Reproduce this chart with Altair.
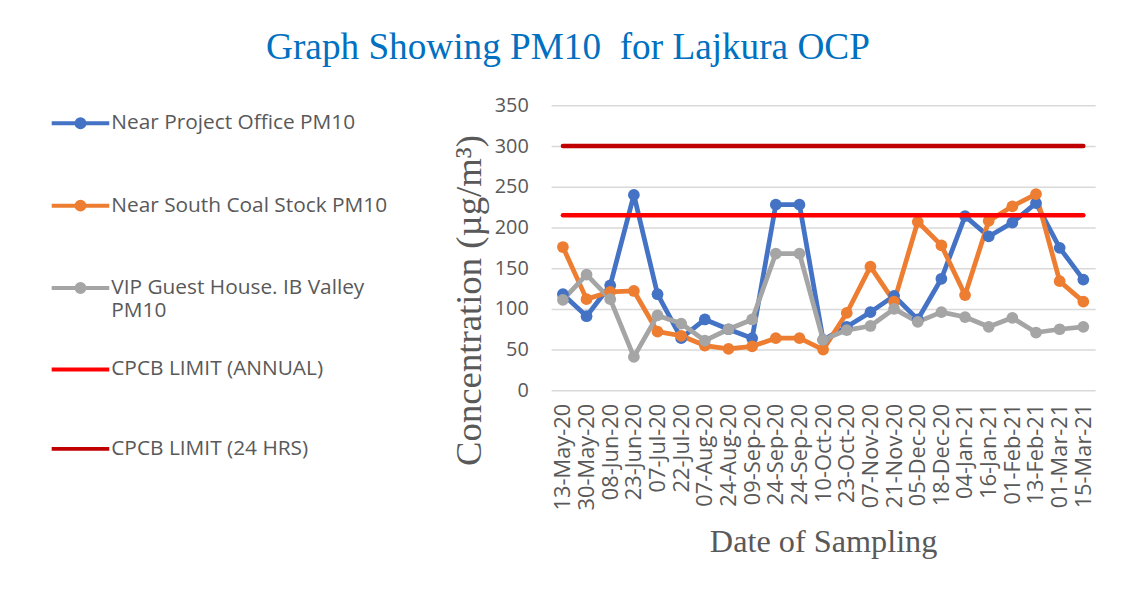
import altair as alt
import pandas as pd

dates = ["13-May-20", "30-May-20", "08-Jun-20", "23-Jun-20", "07-Jul-20", "22-Jul-20",
         "07-Aug-20", "24-Aug-20", "09-Sep-20", "24-Sep-20", "24-Sep-20", "10-Oct-20",
         "23-Oct-20", "07-Nov-20", "21-Nov-20", "05-Dec-20", "18-Dec-20", "04-Jan-21",
         "16-Jan-21", "01-Feb-21", "13-Feb-21", "01-Mar-21", "15-Mar-21"]

near_project_office = [118, 91, 129, 240, 118, 64, 87, 75, 64, 228, 228, 62,
                       78, 96, 116, 87, 137, 214, 189, 206, 230, 175, 136]
near_south_coal = [176, 112, 121, 122, 72, 67, 55, 51, 54, 64, 64, 50,
                   95, 152, 109, 207, 178, 117, 208, 226, 241, 134, 109]
vip_guest_house = [111, 142, 112, 41, 92, 82, 61, 75, 87, 168, 168, 62,
                   74, 79, 100, 84, 96, 90, 78, 89, 71, 75, 78]

series_names = ["Near Project Office PM10", "Near South Coal Stock PM10",
                "VIP Guest House. IB Valley PM10"]
series_colors = ["#4472C4", "#ED7D31", "#A5A5A5"]

limit_names = ["CPCB LIMIT (ANNUAL)", "CPCB LIMIT (24 HRS)"]
limit_values = [215, 300]
limit_colors = ["#FF0000", "#C00000"]

y_ticks = [0, 50, 100, 150, 200, 250, 300, 350]

rows = []
for name, vals in zip(series_names, [near_project_office, near_south_coal, vip_guest_house]):
    for i, v in enumerate(vals):
        rows.append({"idx": i, "series": name, "value": v})
df = pd.DataFrame(rows)

lrows = []
for name, v in zip(limit_names, limit_values):
    for i in range(len(dates)):
        lrows.append({"idx": i, "limit": name, "value": v})
ldf = pd.DataFrame(lrows)

label_expr = "[" + ",".join("'%s'" % d for d in dates) + "][datum.value]"

FONT = "Open Sans"
SERIF = "Liberation Serif"
GREY = "#595959"

x_enc = alt.X("idx:O",
              scale=alt.Scale(type="point", padding=0.5),
              axis=alt.Axis(labelExpr=label_expr, labelAngle=270, labelFont=FONT,
                            labelFontSize=22, labelColor=GREY, labelPadding=13,
                            labelOverlap=False, ticks=False, domain=False, grid=False,
                            title="Date of Sampling", titleFont=SERIF, titleFontSize=32.5,
                            titleFontWeight="normal", titleColor=GREY,
                            titleY=152, titleBaseline="middle"))
y_enc = alt.Y("value:Q",
              scale=alt.Scale(domain=[0, 350], nice=False),
              axis=alt.Axis(values=y_ticks, grid=True, gridColor="#D9D9D9", gridWidth=1.5,
                            domain=False, ticks=False, labelFont=FONT, labelFontSize=20,
                            labelColor=GREY, labelPadding=23,
                            title="Concentration (µg/m³)", titleFont=SERIF,
                            titleFontSize=37, titleFontWeight="normal", titleColor=GREY,
                            titleX=-82, titleY=196, titleAlign="center",
                            titleBaseline="middle"))

r1 = 0.138
r2 = 0.069
sym_path = ("M-1,0L1,0"
            f"M-{r1},0A{r1},{r1},0,1,0,{r1},0A{r1},{r1},0,1,0,-{r1},0"
            f"M-{r2},0A{r2},{r2},0,1,0,{r2},0A{r2},{r2},0,1,0,-{r2},0")

vip = series_names[2]
legend_label_expr = ("datum.label == '%s' ? ['VIP Guest House. IB Valley', 'PM10'] : datum.label" % vip)

series = alt.Chart(df).mark_line(
    strokeWidth=4.8, strokeJoin="round",
    point=alt.OverlayMarkDef(size=140, filled=True, opacity=1)
).encode(
    x=x_enc, y=y_enc,
    color=alt.Color("series:N",
                    scale=alt.Scale(domain=series_names, range=series_colors),
                    legend=alt.Legend(orient="none", legendX=-505, legendY=-13, title=None,
                                      symbolType=sym_path, symbolSize=3364,
                                      symbolStrokeWidth=4, labelFont=FONT,
                                      labelFontSize=21, labelColor=GREY, labelOffset=0,
                                      labelLimit=400, rowPadding=39, padding=0,
                                      labelExpr=legend_label_expr))
)

limits = alt.Chart(ldf).mark_line(strokeWidth=4.5, strokeCap="round").encode(
    x=x_enc, y=y_enc,
    stroke=alt.Stroke("limit:N",
                      scale=alt.Scale(domain=limit_names, range=limit_colors),
                      legend=alt.Legend(orient="none", legendX=-505, legendY=235, title=None,
                                        symbolType="stroke", symbolSize=3364,
                                        symbolStrokeWidth=4, labelFont=FONT,
                                        labelFontSize=21, labelColor=GREY, labelOffset=0,
                                        labelLimit=400, rowPadding=39, padding=0))
)

chart = alt.layer(series, limits).resolve_scale(color="independent").properties(
    width=548, height=287,
    autosize=alt.AutoSizeParams(type="none"),
    padding={"left": 547, "top": 96, "right": 22, "bottom": 190},
    title=alt.Title("Graph Showing PM10 \u00a0for Lajkura OCP", font=SERIF, fontSize=37.5,
                    fontWeight="normal", color="#0070C0", anchor="middle", dx=-257,
                    offset=26),
).configure(background="white").configure_view(stroke=None)

chart.save("out.html", embed_options={"renderer": "svg", "actions": False})
